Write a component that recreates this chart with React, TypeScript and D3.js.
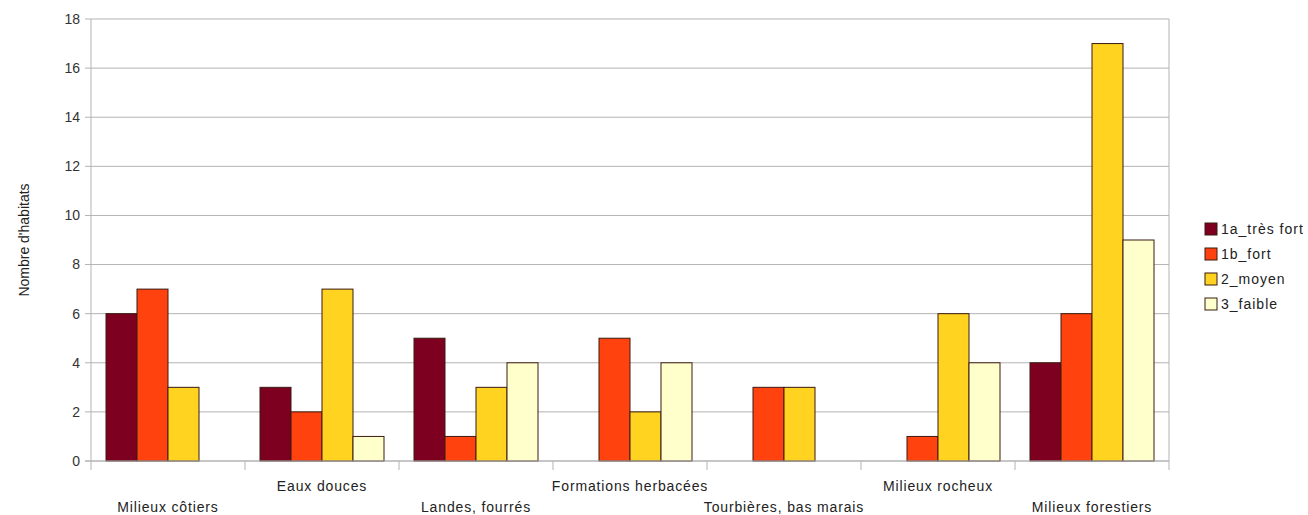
import React from "react";
import * as d3 from "d3";

const categories = [
  "Milieux côtiers",
  "Eaux douces",
  "Landes, fourrés",
  "Formations herbacées",
  "Tourbières, bas marais",
  "Milieux rocheux",
  "Milieux forestiers",
];
const seriesNames = ["1a_très fort", "1b_fort", "2_moyen", "3_faible"];
const s1a = [6, 3, 5, 0, 0, 0, 4];
const s1b = [7, 2, 1, 5, 3, 1, 6];
const s2 = [3, 7, 3, 2, 3, 6, 17];
const s3 = [0, 1, 4, 4, 0, 4, 9];
const seriesValues = [s1a, s1b, s2, s3];
const colors = ["#7e0021", "#ff420e", "#ffd320", "#ffffcc"];
const yTicks = [0, 2, 4, 6, 8, 10, 12, 14, 16, 18];

const W = 1308;
const H = 515;
const left = 91;
const right = 1169;
const top = 19;
const bottom = 461;
const font = "'Liberation Sans', Arial, sans-serif";

export default function App() {
  const x = d3.scaleBand<string>().domain(categories).range([left, right]).paddingInner(0).paddingOuter(0);
  const inner = d3
    .scaleBand<number>()
    .domain(d3.range(seriesNames.length))
    .range([0, x.bandwidth()])
    .paddingOuter(15 / 31)
    .paddingInner(0);
  const y = d3.scaleLinear().domain([0, 18]).range([bottom, top]);
  const boundaries = categories.map((c) => x(c)!).concat([right]);

  return (
    <svg width={W} height={H} style={{ position: "absolute", left: 0, top: 0, background: "#fff" }}>
      <rect x={0} y={0} width={W} height={H} fill="#fff" />
      {yTicks.map((t) => (
        <g key={t}>
          <line x1={left - 6} x2={right} y1={y(t)} y2={y(t)} stroke="#b3b3b3" strokeWidth={1} />
          <text x={80} y={y(t)} dy="0.35em" textAnchor="end" fontFamily={font} fontSize={14} fill="#333">
            {t}
          </text>
        </g>
      ))}
      <line x1={left} x2={left} y1={top} y2={bottom} stroke="#b3b3b3" />
      <line x1={right} x2={right} y1={top} y2={bottom} stroke="#b3b3b3" />
      {boundaries.map((b, i) => (
        <line key={i} x1={b} x2={b} y1={bottom} y2={bottom + 9} stroke="#b3b3b3" />
      ))}
      {categories.map((c, ci) =>
        seriesValues.map((vals, si) => {
          const v = vals[ci];
          if (!v) return null;
          const bx = x(c)! + inner(si)!;
          return (
            <rect
              key={c + si}
              x={bx}
              y={y(v)}
              width={inner.bandwidth()}
              height={y(0) - y(v)}
              fill={colors[si]}
              stroke="#3a1a10"
              strokeWidth={1}
            />
          );
        })
      )}
      <line x1={left - 6} x2={right} y1={bottom} y2={bottom} stroke="#b3b3b3" />
      {categories.map((c, ci) => (
        <text
          key={c}
          x={x(c)! + x.bandwidth() / 2}
          y={ci % 2 === 0 ? 512 : 491}
          textAnchor="middle"
          fontFamily={font}
          fontSize={14}
          letterSpacing={0.85}
          fill="#222"
        >
          {c}
        </text>
      ))}
      <text
        transform={`translate(29,${(top + bottom) / 2}) rotate(-90)`}
        textAnchor="middle"
        fontFamily={font}
        fontSize={14}
        fill="#222"
      >
        Nombre d'habitats
      </text>
      {seriesNames.map((n, i) => (
        <g key={n} transform={`translate(1205,${223 + i * 25})`}>
          <rect x={0} y={0} width={12} height={12} fill={colors[i]} stroke="#3a1a10" strokeWidth={1} />
          <text x={16} y={6} dy="0.35em" fontFamily={font} fontSize={14} letterSpacing={1} fill="#222">
            {n}
          </text>
        </g>
      ))}
    </svg>
  );
}
